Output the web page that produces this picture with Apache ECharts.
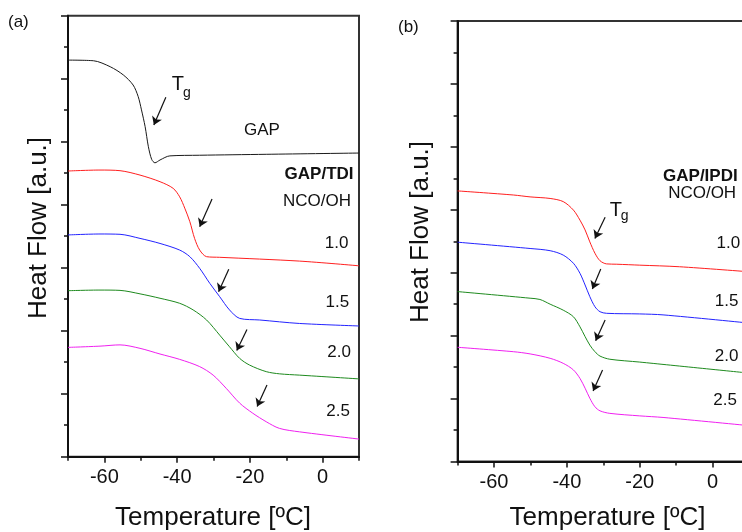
<!DOCTYPE html>
<html>
<head>
<meta charset="utf-8">
<script src="https://cdn.jsdelivr.net/npm/echarts@6/dist/echarts.min.js"></script>
<style>
  html, body { margin: 0; padding: 0; background: #fff; }
  #chart { width: 742px; height: 532px; }
</style>
</head>
<body>
<div id="chart"></div>
<script>
const FONT = '"Liberation Sans", Arial, Helvetica, sans-serif'
const INK = '#111'

// x ticks: labelled majors and the minor ones in between
const majorX = [-60, -40, -20, 0]
const minorX = [-70, -50, -30, -10, 10]

// (a) GAP and GAP/TDI curves, [temperature ºC, heat flow a.u.]
const gapA = [[-70, 12.59], [-63, 12.57], [-58.4, 12.38], [-54.8, 12.12], [-52.1, 11.80], [-50.7, 11.43], [-49.8, 11.01], [-48.8, 10.48], [-47.9, 9.84], [-47.0, 9.44], [-46.1, 9.33], [-44.7, 9.42], [-42.0, 9.55], [-33.8, 9.57], [-15.5, 9.60], [10, 9.64]]
const tdi10 = [[-70, 9.07], [-61.2, 9.10], [-55.7, 9.08], [-50.2, 8.94], [-44.7, 8.73], [-41.1, 8.52], [-39.3, 8.25], [-37.9, 7.89], [-36.5, 7.46], [-35.2, 6.93], [-33.8, 6.56], [-31.9, 6.35], [-28.3, 6.33], [-6.4, 6.21], [10, 6.06]]
const tdi15 = [[-70, 7.04], [-61.2, 7.07], [-55.7, 7.06], [-50.2, 6.93], [-44.7, 6.77], [-39.3, 6.56], [-36.5, 6.35], [-33.8, 5.98], [-31.0, 5.50], [-28.3, 5.08], [-25.6, 4.66], [-22.8, 4.39], [-17.3, 4.34], [-6.4, 4.23], [10, 4.15]]
const tdi20 = [[-70, 5.27], [-61.2, 5.29], [-55.7, 5.28], [-50.2, 5.17], [-44.7, 5.03], [-39.3, 4.87], [-35.6, 4.66], [-31.9, 4.34], [-28.3, 3.86], [-25.6, 3.49], [-22.8, 3.12], [-20.1, 2.91], [-15.5, 2.70], [-11.8, 2.63], [-6.4, 2.59], [10, 2.47]]
const tdi25 = [[-70, 3.47], [-61.2, 3.51], [-55.7, 3.55], [-50.2, 3.44], [-44.7, 3.26], [-39.3, 3.09], [-33.8, 2.86], [-30.1, 2.59], [-26.5, 2.17], [-22.8, 1.70], [-19.2, 1.38], [-15.5, 1.11], [-11.9, 0.90], [-6.4, 0.79], [10, 0.56]]

// (b) GAP/IPDI curves
const ipdi10 = [[-70, 8.60], [-54.7, 8.47], [-50.1, 8.41], [-44.6, 8.36], [-41.0, 8.26], [-38.2, 7.99], [-36.4, 7.67], [-35.0, 7.36], [-33.7, 6.98], [-32.3, 6.62], [-30.9, 6.38], [-29.1, 6.28], [-26.3, 6.27], [-20.0, 6.24], [-9.1, 6.19], [10, 6.03]]
const ipdi15 = [[-70, 6.97], [-50.1, 6.77], [-44.6, 6.70], [-41.0, 6.56], [-38.2, 6.30], [-36.4, 5.98], [-35.0, 5.61], [-33.7, 5.24], [-32.3, 4.92], [-30.9, 4.76], [-29.1, 4.71], [-20.0, 4.69], [-13.6, 4.66], [10, 4.40]]
const ipdi20 = [[-70, 5.40], [-50.1, 5.19], [-47.4, 5.15], [-44.6, 5.00], [-41.0, 4.81], [-38.2, 4.60], [-36.4, 4.28], [-35.0, 3.97], [-33.7, 3.70], [-32.3, 3.49], [-30.9, 3.35], [-28.2, 3.25], [-20.0, 3.16], [10, 2.81]]
const ipdi25 = [[-70, 3.63], [-54.7, 3.49], [-50.1, 3.42], [-44.6, 3.28], [-41.0, 3.12], [-38.2, 2.91], [-36.4, 2.64], [-35.0, 2.33], [-33.7, 2.01], [-32.3, 1.74], [-30.9, 1.61], [-28.2, 1.53], [-20.0, 1.45], [-13.6, 1.40], [10, 1.14]]

// Tg arrows: [tailX, tailY, headX, headY]
const arrowsA = [[-43.1, 11.41, -46.4, 10.53], [-30.4, 8.18, -33.8, 7.30], [-25.8, 5.95, -28.6, 5.24], [-20.8, 4.04, -23.6, 3.37], [-15.3, 2.28, -18.0, 1.59]]
const arrowsB = [[-29.5, 7.76, -32.3, 7.09], [-30.7, 6.12, -33.0, 5.48], [-29.5, 4.50, -32.1, 3.84], [-30.2, 2.91, -32.8, 2.24]]

// curve labels and where they sit
const textA = ['GAP', 'GAP/TDI', 'NCO/OH', '1.0', '1.5', '2.0', '2.5']
const textAnchorA = [[-16.7, 10.35], [8.5, 8.97], [7.8, 8.10], [7.1, 6.77], [7.3, 4.91], [7.8, 3.30], [7.5, 1.43]]
const textB = ['GAP/IPDI', 'NCO/OH', '1.0', '1.5', '2.0', '2.5']
const textAnchorB = [[-13.6, 9.07], [-12.2, 8.52], [1.1, 6.93], [0.6, 5.10], [0.6, 3.35], [0.2, 1.95]]
const tgAnchorA = [[-41.5, 11.82], [-38.4, 11.55]]
const tgAnchorB = [[-28.2, 7.97], [-25.2, 7.80]]

const colors = ['#1a1a1a', '#ff1f1f', '#2323ff', '#1e8a1e', '#f020f0']

function curve(name, data, color, xi, yi) {
    return {
        name: name, type: 'line', data: data,
        xAxisIndex: xi, yAxisIndex: yi,
        showSymbol: false, smooth: 0.3, silent: true,
        lineStyle: { color: color, width: 1 },
        animation: false
    }
}

function textItem(text, coord, align) {
    const bold = text.indexOf('GAP/') === 0
    return {
        value: coord,
        label: {
            show: true, formatter: text, position: 'inside',
            align: align, verticalAlign: 'middle',
            fontSize: 17, fontWeight: bold ? 'bold' : 'normal',
            fontFamily: FONT, color: INK
        }
    }
}

function tgItems(anchor) {
    return [
        { value: anchor[0], label: { show: true, formatter: 'T', position: 'inside', align: 'left', verticalAlign: 'middle', fontSize: 20, fontFamily: FONT, color: INK } },
        { value: anchor[1], label: { show: true, formatter: 'g', position: 'inside', align: 'left', verticalAlign: 'middle', fontSize: 14, fontFamily: FONT, color: INK } }
    ]
}

function notes(items, arrows, xi, yi) {
    return {
        type: 'scatter', xAxisIndex: xi, yAxisIndex: yi,
        symbolSize: 1, silent: true, animation: false,
        itemStyle: { color: 'rgba(0,0,0,0)', opacity: 1 },
        data: items,
        markLine: {
            silent: true, animation: false,
            symbol: ['none', 'arrow'], symbolSize: 8,
            lineStyle: { color: INK, width: 1.2, type: 'solid', opacity: 1 },
            label: { show: false },
            data: arrows.map(a => [{ coord: [a[0], a[1]] }, { coord: [a[2], a[3]] }])
        }
    }
}

function mainX(gi) {
    return {
        type: 'value', gridIndex: gi, min: -70, max: 10, position: 'bottom',
        axisLine: { show: true, onZero: false, lineStyle: { color: INK, width: 2 } },
        axisTick: { show: true, inside: false, length: 6, customValues: majorX, lineStyle: { color: INK, width: 1.5 } },
        axisLabel: { show: true, customValues: majorX, fontSize: 20, fontFamily: FONT, color: INK, margin: 11 },
        splitLine: { show: false }
    }
}

function minorAxisX(gi) {
    return {
        type: 'value', gridIndex: gi, min: -70, max: 10, position: 'bottom',
        axisLine: { show: false },
        axisTick: { show: true, inside: false, length: 4, customValues: minorX, lineStyle: { color: INK, width: 1.5 } },
        axisLabel: { show: false },
        splitLine: { show: false }
    }
}

function heatY(gi) {
    return {
        type: 'value', gridIndex: gi, min: 0, max: 14, interval: 2,
        axisLine: { show: true, onZero: false, lineStyle: { color: INK, width: 2 } },
        axisTick: { show: true, inside: false, length: 7, lineStyle: { color: INK, width: 1.5 } },
        minorTick: { show: true, splitNumber: 2, length: 4, lineStyle: { color: INK, width: 1.5 } },
        axisLabel: { show: false },
        splitLine: { show: false }
    }
}

const titleStyle = { fontSize: 26, fontFamily: FONT, fill: INK, align: 'center', verticalAlign: 'middle' }

const option = {
    backgroundColor: '#fff',
    animation: false,
    grid: [
        { left: 68, top: 15.7, right: 383, bottom: 75.3, show: true, borderColor: '#333', borderWidth: 2, outerBoundsMode: 'none' },
        { left: 457.6, top: 21, right: -7, bottom: 70.5, show: true, borderColor: '#333', borderWidth: 2, outerBoundsMode: 'none' }
    ],
    xAxis: [mainX(0), minorAxisX(0), mainX(1), minorAxisX(1)],
    yAxis: [heatY(0), heatY(1)],
    series: [
        curve('GAP', gapA, colors[0], 0, 0),
        curve('TDI 1.0', tdi10, colors[1], 0, 0),
        curve('TDI 1.5', tdi15, colors[2], 0, 0),
        curve('TDI 2.0', tdi20, colors[3], 0, 0),
        curve('TDI 2.5', tdi25, colors[4], 0, 0),
        curve('IPDI 1.0', ipdi10, colors[1], 2, 1),
        curve('IPDI 1.5', ipdi15, colors[2], 2, 1),
        curve('IPDI 2.0', ipdi20, colors[3], 2, 1),
        curve('IPDI 2.5', ipdi25, colors[4], 2, 1),
        notes(textA.map((t, i) => textItem(t, textAnchorA[i], i === 0 ? 'center' : 'right')).concat(tgItems(tgAnchorA)), arrowsA, 0, 0),
        notes(textB.map((t, i) => textItem(t, textAnchorB[i], 'left')).concat(tgItems(tgAnchorB)), arrowsB, 2, 1)
    ],
    graphic: [
        { type: 'text', left: 8, top: 14, style: { text: '(a)', fontSize: 17, fontFamily: FONT, fill: INK } },
        { type: 'text', left: 398, top: 19, style: { text: '(b)', fontSize: 17, fontFamily: FONT, fill: INK } },
        { type: 'text', x: 39, y: 228, rotation: Math.PI / 2, style: Object.assign({ text: 'Heat Flow [a.u.]' }, titleStyle) },
        { type: 'text', x: 421, y: 232, rotation: Math.PI / 2, style: Object.assign({ text: 'Heat Flow [a.u.]' }, titleStyle) },
        { type: 'text', x: 213, y: 518, style: Object.assign({ text: 'Temperature [ºC]' }, titleStyle) },
        { type: 'text', x: 607.5, y: 518, style: Object.assign({ text: 'Temperature [ºC]' }, titleStyle) }
    ]
}

const chart = echarts.init(document.getElementById('chart'), null, { renderer: 'canvas' })
chart.setOption(option)
</script>
</body>
</html>
